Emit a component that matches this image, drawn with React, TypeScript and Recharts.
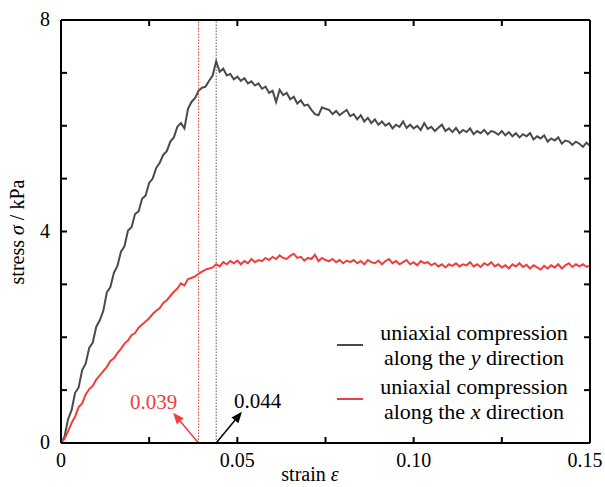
import React from "react";
import {
  LineChart,
  Line,
  XAxis,
  YAxis,
  ReferenceLine,
} from "recharts";

// uniaxial compression along the y direction (kPa), strain 0 to 0.15 in steps of 0.001
const stressAlongY = [
  0, 0.12, 0.45, 0.62, 0.95, 1.05, 1.38, 1.5, 1.8, 1.9,
  2.2, 2.32, 2.5, 2.85, 2.95, 3.22, 3.35, 3.62, 3.72, 4.02,
  4.08, 4.33, 4.38, 4.62, 4.68, 4.92, 5.0, 5.2, 5.3, 5.45,
  5.52, 5.7, 5.78, 5.98, 6.05, 5.95, 6.32, 6.45, 6.52, 6.66,
  6.72, 6.74, 6.85, 6.95, 7.22, 7.02, 7.08, 6.95, 6.98, 6.88,
  6.93, 6.85, 6.9, 6.8, 6.84, 6.76, 6.8, 6.7, 6.74, 6.62,
  6.66, 6.45, 6.68, 6.58, 6.62, 6.5, 6.55, 6.42, 6.48, 6.38,
  6.4, 6.3, 6.22, 6.2, 6.35, 6.32, 6.3, 6.22, 6.28, 6.2,
  6.25, 6.3, 6.18, 6.22, 6.12, 6.2, 6.08, 6.15, 6.05, 6.12,
  6.02, 6.08, 6.0, 6.05, 5.95, 6.02, 5.98, 6.08, 5.96, 6.02,
  5.95, 6.0, 5.92, 6.05, 5.94, 5.98, 5.9, 5.96, 6.02, 5.9,
  5.95, 5.88, 5.96, 5.86, 5.92, 5.88, 5.95, 5.84, 5.9, 5.86,
  5.92, 5.84, 5.9, 5.88, 5.83, 5.9, 5.82, 5.88, 5.8, 5.86,
  5.78, 5.84, 5.8, 5.86, 5.74, 5.8, 5.76, 5.82, 5.7, 5.76,
  5.72, 5.78, 5.66, 5.72, 5.7, 5.64, 5.7, 5.66, 5.6, 5.68,
  5.62,
];

// uniaxial compression along the x direction (kPa)
const stressAlongX = [
  0, 0.08, 0.22, 0.38, 0.5, 0.68, 0.75, 0.92, 1.02, 1.08,
  1.2, 1.28, 1.36, 1.44, 1.55, 1.6, 1.7, 1.78, 1.88, 1.94,
  2.04, 2.08, 2.18, 2.24, 2.3, 2.36, 2.44, 2.5, 2.55, 2.65,
  2.7, 2.78, 2.86, 2.92, 3.02, 2.98, 3.1, 3.12, 3.15, 3.2,
  3.24, 3.28, 3.3, 3.32, 3.38, 3.34, 3.42, 3.38, 3.44, 3.4,
  3.45, 3.38, 3.44, 3.4, 3.48, 3.42, 3.46, 3.44, 3.5, 3.46,
  3.52, 3.48, 3.55, 3.5, 3.48, 3.54, 3.58, 3.5, 3.52, 3.45,
  3.5, 3.48, 3.56, 3.44, 3.5, 3.46, 3.44, 3.48, 3.42, 3.46,
  3.4, 3.45, 3.42, 3.46, 3.4, 3.44, 3.38, 3.46, 3.42, 3.4,
  3.45, 3.38, 3.44, 3.48, 3.4, 3.44, 3.38, 3.42, 3.46, 3.38,
  3.42, 3.36, 3.44, 3.4, 3.42, 3.36, 3.4, 3.34, 3.38, 3.32,
  3.38, 3.35, 3.4, 3.34, 3.38, 3.36, 3.42, 3.34, 3.38, 3.33,
  3.4, 3.36, 3.42, 3.34, 3.38, 3.32, 3.36, 3.3, 3.38, 3.34,
  3.4, 3.33, 3.37, 3.3, 3.36, 3.32, 3.28, 3.35, 3.3, 3.36,
  3.32, 3.38, 3.3, 3.36, 3.4, 3.33, 3.38, 3.34, 3.38, 3.33,
  3.36,
];

const xTicks = [0, 0.025, 0.05, 0.075, 0.1, 0.125, 0.15];
const xTickLabels: Record<string, string> = { "0": "0", "0.05": "0.05", "0.1": "0.10", "0.15": "0.15" };
const yTicks = [0, 1, 2, 3, 4, 5, 6, 7, 8];
const yTickLabels: Record<string, string> = { "0": "0", "4": "4", "8": "8" };

const peakStrainX = 0.039;
const peakStrainY = 0.044;

const GRAY = "#4a4a4a";
const RED = "#f23d3d";
const FONT = "Liberation Serif, Times New Roman, Times, serif";

const legendItems = [
  { color: GRAY, axis: "y" },
  { color: RED, axis: "x" },
];

const data = stressAlongY.map((v, i) => ({
  strain: i / 1000,
  sy: v,
  sx: stressAlongX[i],
}));

const BottomTick = (props: any) => {
  const { x, y, payload } = props;
  const label = xTickLabels[String(payload.value)];
  const shift = payload.value === 0.15 ? -5 : 0;
  return (
    <g>
      <line x1={x} y1={y} x2={x} y2={y - 6} stroke="#000" strokeWidth={2} />
      {label && (
        <text x={x + shift} y={y + 24} textAnchor="middle" fontSize={20} fontFamily={FONT} fill="#000">
          {label}
        </text>
      )}
    </g>
  );
};

const TopTick = (props: any) => {
  const { x, y } = props;
  return <line x1={x} y1={y} x2={x} y2={y + 6} stroke="#000" strokeWidth={2} />;
};

const LeftTick = (props: any) => {
  const { x, y, payload } = props;
  const label = yTickLabels[String(payload.value)];
  return (
    <g>
      <line x1={x} y1={y} x2={x + 6} y2={y} stroke="#000" strokeWidth={2} />
      {label && (
        <text x={x - 11} y={y + 6} textAnchor="end" fontSize={20} fontFamily={FONT} fill="#000">
          {label}
        </text>
      )}
    </g>
  );
};

const RightTick = (props: any) => {
  const { x, y } = props;
  return <line x1={x} y1={y} x2={x - 6} y2={y} stroke="#000" strokeWidth={2} />;
};

// arrow from the base (x1,y1) to the tip (x2,y2), with the value written at the tip
const makeArrow = (color: string, text: string, anchor: "start" | "end") => (props: any) => {
  const { x1, y1, x2, y2 } = props;
  const ang = Math.atan2(y2 - y1, x2 - x1);
  const len = 11;
  const w = 4.5;
  const bx = x2 - len * Math.cos(ang);
  const by = y2 - len * Math.sin(ang);
  const px = -Math.sin(ang) * w;
  const py = Math.cos(ang) * w;
  return (
    <g>
      <line x1={x1} y1={y1} x2={bx} y2={by} stroke={color} strokeWidth={1.5} />
      <polygon points={`${x2},${y2} ${bx + px},${by + py} ${bx - px},${by - py}`} fill={color} />
      <text
        x={anchor === "end" ? x2 + 4 : x2 - 8}
        y={y2 - 4}
        textAnchor={anchor}
        fontSize={21}
        fontFamily={FONT}
        fill={color}
      >
        {text}
      </text>
    </g>
  );
};

export default function App() {
  return (
    <div style={{ position: "absolute", left: 0, top: 0, width: 605, height: 487, background: "#fff", fontFamily: FONT }}>
      <LineChart
        width={605}
        height={487}
        data={data}
        margin={{ top: 19, right: 14, bottom: 43, left: 60 }}
      >
        <XAxis
          dataKey="strain"
          type="number"
          domain={[0, 0.15]}
          ticks={xTicks}
          tickLine={false}
          tickSize={0}
          tickMargin={0}
          height={1}
          axisLine={{ stroke: "#000", strokeWidth: 2 }}
          tick={<BottomTick />}
          allowDataOverflow
        />
        <XAxis
          xAxisId="top"
          orientation="top"
          dataKey="strain"
          type="number"
          domain={[0, 0.15]}
          ticks={xTicks}
          tickLine={false}
          tickSize={0}
          tickMargin={0}
          height={1}
          axisLine={{ stroke: "#000", strokeWidth: 2 }}
          tick={<TopTick />}
          allowDataOverflow
        />
        <YAxis
          type="number"
          domain={[0, 8]}
          ticks={yTicks}
          tickLine={false}
          tickSize={0}
          tickMargin={0}
          width={1}
          axisLine={{ stroke: "#000", strokeWidth: 2 }}
          tick={<LeftTick />}
          allowDataOverflow
        />
        <YAxis
          yAxisId="right"
          orientation="right"
          type="number"
          domain={[0, 8]}
          ticks={yTicks}
          tickLine={false}
          tickSize={0}
          tickMargin={0}
          width={1}
          axisLine={{ stroke: "#000", strokeWidth: 2 }}
          tick={<RightTick />}
          allowDataOverflow
        />
        <ReferenceLine x={peakStrainX} stroke={RED} strokeWidth={1} strokeDasharray="1.5 1.5" />
        <ReferenceLine x={peakStrainY} stroke="#555" strokeWidth={1} strokeDasharray="1.5 1.5" />
        <ReferenceLine
          segment={[{ x: peakStrainX, y: 0 }, { x: 0.0318, y: 0.57 }]}
          shape={makeArrow(RED, String(peakStrainX), "end")}
        />
        <ReferenceLine
          segment={[{ x: peakStrainY, y: 0 }, { x: 0.0513, y: 0.59 }]}
          shape={makeArrow("#000", String(peakStrainY), "start")}
        />
        {/* invisible series so the top and right frame axes get drawn */}
        <Line
          xAxisId="top"
          yAxisId="right"
          dataKey="sy"
          stroke="none"
          dot={false}
          isAnimationActive={false}
        />
        <Line
          dataKey="sy"
          name="uniaxial compression along the y direction"
          type="linear"
          stroke={GRAY}
          strokeWidth={2}
          dot={false}
          isAnimationActive={false}
        />
        <Line
          dataKey="sx"
          name="uniaxial compression along the x direction"
          type="linear"
          stroke={RED}
          strokeWidth={2}
          dot={false}
          isAnimationActive={false}
        />
        <text x={310} y={481} textAnchor="middle" fontSize={20} fontFamily={FONT} fill="#000">
          strain <tspan fontStyle="italic">ε</tspan>
        </text>
        <text
          x={24}
          y={232}
          textAnchor="middle"
          fontSize={20}
          fontFamily={FONT}
          fill="#000"
          transform="rotate(-90 24 232)"
        >
          stress <tspan fontStyle="italic">σ</tspan> / kPa
        </text>
      </LineChart>
      <div
        style={{
          position: "absolute",
          left: 337,
          top: 320,
          display: "flex",
          flexDirection: "column",
          gap: 4,
          fontFamily: FONT,
        }}
      >
        {legendItems.map((item) => (
          <div key={item.axis} style={{ display: "flex", alignItems: "center" }}>
            <div style={{ width: 26, height: 2, backgroundColor: item.color, marginRight: 14 }} />
            <div style={{ width: 194, textAlign: "center", fontSize: 22, lineHeight: "25px", color: "#000" }}>
              <div>uniaxial compression</div>
              <div>
                along the <i>{item.axis}</i> direction
              </div>
            </div>
          </div>
        ))}
      </div>
    </div>
  );
}
